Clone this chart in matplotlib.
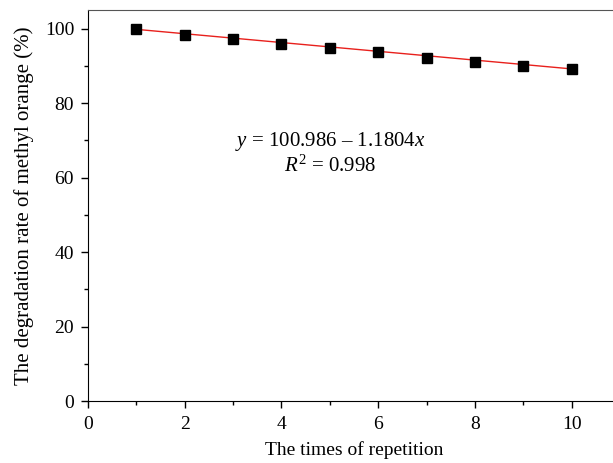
import numpy as np
import matplotlib.pyplot as plt
from matplotlib.ticker import MultipleLocator

# degradation rate for each repeated run
runs = [1, 2, 3, 4, 5, 6, 7, 8, 9, 10]
rate = [99.9, 98.4, 97.2, 95.9, 94.9, 93.8, 92.1, 91.0, 89.9, 89.2]

# linear fit reported on the plot
intercept = 100.986
slope = -1.1804
r2 = 0.998

plt.rcParams['font.family'] = ['Liberation Serif', 'DejaVu Serif']
plt.rcParams['mathtext.fontset'] = 'custom'
plt.rcParams['mathtext.rm'] = 'Liberation Serif'
plt.rcParams['mathtext.it'] = 'Liberation Serif:italic'

fs = 14
fig = plt.figure(figsize=[6.13, 4.63], dpi=100)
ax = fig.add_axes([88 / 613, 1 - 401 / 463, (620 - 88) / 613, (401 - 10) / 463])

xf = np.array([runs[0], runs[-1]])
ax.plot(xf, intercept + slope * xf, color='#e8201c', lw=1.0, zorder=2)
ax.plot(runs, rate, 's', color='black', ms=7, zorder=3)

ax.set_xlim(0, 11)
ax.set_ylim(0, 105)
ax.xaxis.set_major_locator(MultipleLocator(2))
ax.xaxis.set_minor_locator(MultipleLocator(1))
ax.yaxis.set_major_locator(MultipleLocator(20))
ax.yaxis.set_minor_locator(MultipleLocator(10))
ax.tick_params(which='major', direction='out', length=5, width=1, labelsize=fs)
ax.tick_params(which='minor', direction='out', length=3, width=1)
ax.tick_params(axis='x', which='major', pad=6)
ax.tick_params(axis='y', which='major', pad=5)
ax.spines['right'].set_visible(False)
ax.spines['top'].set_color('#555555')

ax.set_xlabel('The times of repetition', fontsize=fs, labelpad=6)
ax.set_ylabel('The degradation rate of methyl orange (%)', fontsize=15, labelpad=8)

ax.text(5.0, 69.6, r'$y$ = %.3f – %.4f$x$' % (intercept, -slope),
        ha='center', va='center', fontsize=15)
ax.text(5.0, 63.0, r'$R^2$ = %.3f' % r2, ha='center', va='center', fontsize=15)

plt.savefig('out.png', dpi=100)
